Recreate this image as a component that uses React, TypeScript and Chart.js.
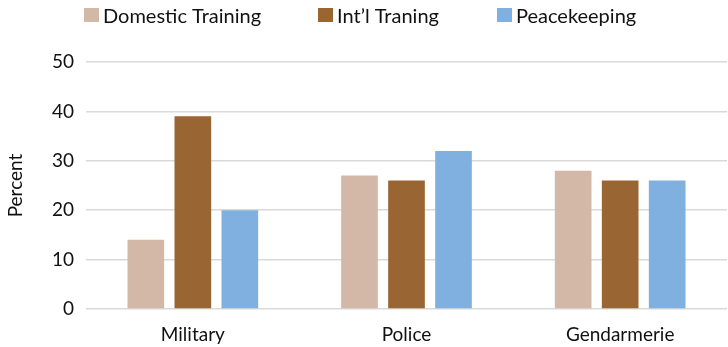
import React, { useEffect, useRef } from "react";
import { Chart, registerables } from "chart.js";

Chart.register(...registerables);

const categories = ["Military", "Police", "Gendarmerie"];
const seriesLabels = ["Domestic Training", "Int\u2019l Traning", "Peacekeeping"];
const domesticTraining = [14, 27, 28];
const intlTraining = [39, 26, 26];
const peacekeeping = [20, 32, 26];
const yMin = 0;
const yMax = 50;
const yStep = 10;
const yTitle = "Percent";

const seriesColors = ["#D3B8A7", "#996633", "#80B0DF"];
const FONT = "Lato, 'Noto Sans', sans-serif";

// legend layout (style): left edge of each legend swatch
const legendItemX = [84, 318, 497];

const legendPlugin = {
  id: "customLegend",
  afterDraw(chart: any) {
    const ctx = chart.ctx;
    ctx.save();
    ctx.font = `20px ${FONT}`;
    ctx.textBaseline = "alphabetic";
    ctx.textAlign = "left";
    const boxTop = 8;
    const boxSize = 14;
    chart.data.datasets.forEach((ds: any, i: number) => {
      const x = legendItemX[i];
      ctx.fillStyle = ds.backgroundColor;
      ctx.fillRect(x, boxTop, 15, boxSize);
      ctx.fillStyle = "#111";
      ctx.fillText(ds.label, x + 19, 23);
    });
    ctx.restore();
  },
};

export default function App() {
  const ref = useRef<HTMLCanvasElement | null>(null);
  useEffect(() => {
    if (!ref.current) return;
    const chart = new Chart(ref.current, {
      type: "bar",
      data: {
        labels: categories,
        datasets: [domesticTraining, intlTraining, peacekeeping].map((d, i) => ({
          label: seriesLabels[i],
          data: d,
          backgroundColor: seriesColors[i],
          borderWidth: 0,
          categoryPercentage: 0.66,
          barPercentage: 0.78,
        })),
      },
      options: {
        animation: false,
        responsive: true,
        maintainAspectRatio: false,
        layout: { padding: { top: 62, right: 1, bottom: 0, left: 0 } },
        plugins: {
          legend: { display: false },
          tooltip: { enabled: false },
        },
        scales: {
          x: {
            grid: { display: false },
            border: { display: false },
            ticks: {
              color: "#111",
              font: { family: FONT, size: 19 },
              padding: 6,
            },
            afterFit: (s: any) => {
              s.height = 38;
            },
          },
          y: {
            min: yMin,
            max: yMax,
            grid: { color: "#D9D9D9", lineWidth: 1.5, drawTicks: false },
            border: { display: false },
            ticks: {
              stepSize: yStep,
              color: "#111",
              font: { family: FONT, size: 19 },
              padding: 12,
            },
            title: {
              display: true,
              text: yTitle,
              color: "#111",
              font: { family: FONT, size: 19 },
              padding: { top: 4, bottom: 4 },
            },
            afterFit: (s: any) => {
              s.width = 86;
            },
          },
        },
      },
      plugins: [legendPlugin],
    });
    return () => chart.destroy();
  }, []);
  return (
    <div style={{ position: "fixed", left: 0, top: 0, width: 728, height: 347, background: "#fff" }}>
      <canvas ref={ref} />
    </div>
  );
}
